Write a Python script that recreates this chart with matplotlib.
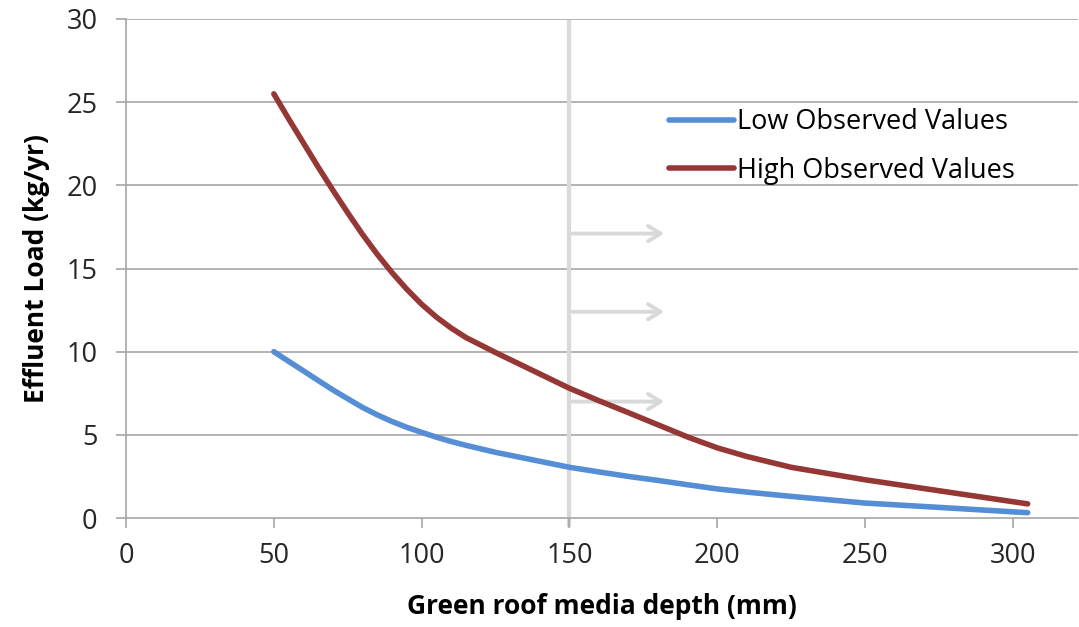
import matplotlib
matplotlib.use("Agg")
import matplotlib.pyplot as plt

depth = [50, 55, 60, 65, 70, 75, 80, 85, 90, 95, 100, 105, 110, 115, 125, 150,
         160, 170, 180, 190, 200, 210, 225, 250, 275, 305]
low_vals = [10.0, 9.42, 8.85, 8.27, 7.7, 7.17, 6.65, 6.2, 5.8, 5.45, 5.15, 4.86, 4.6, 4.37, 3.95, 3.05,
            2.77, 2.5, 2.26, 2.0, 1.75, 1.56, 1.3, 0.9, 0.64, 0.32]
high_vals = [25.5, 24.0, 22.55, 21.1, 19.7, 18.35, 17.05, 15.85, 14.75, 13.75, 12.85, 12.08, 11.42, 10.85, 9.95, 7.8,
             7.05, 6.33, 5.6, 4.87, 4.22, 3.7, 3.05, 2.3, 1.64, 0.85]
arrow_levels = [17.1, 12.4, 7.0]
cutoff = 150
arrow_end = 183

plt.rcParams['font.family'] = ['Open Sans', 'DejaVu Sans']

fig = plt.figure(figsize=(10.79, 6.27), dpi=100)
ax = fig.add_axes([0.1168, 0.1738, 0.8822, 0.7959])

grid_c = '#a6a6a6'
for yv in range(5, 31, 5):
    ax.axhline(yv, color=grid_c, lw=1.2, zorder=0)

# threshold line and arrows
ax.plot([cutoff, cutoff], [-0.4, 29.8], color='#d9d9d9', lw=3, zorder=1, clip_on=False)
for yv in arrow_levels:
    ax.annotate('', xy=(arrow_end, yv), xytext=(cutoff, yv),
                arrowprops=dict(arrowstyle='->,head_length=0.9,head_width=0.55',
                                color='#d9d9d9', lw=2.8), zorder=1)

ax.plot(depth, low_vals, color='#558ed5', lw=4, solid_capstyle='round',
        solid_joinstyle='round', label='Low Observed Values', zorder=3)
ax.plot(depth, high_vals, color='#953735', lw=4, solid_capstyle='round',
        solid_joinstyle='round', label='High Observed Values', zorder=3)

ax.set_xlim(0, 322)
ax.set_ylim(0, 30)
ax.set_xticks(range(0, 301, 50))
ax.set_yticks(range(0, 31, 5))
for s in ['top', 'right']:
    ax.spines[s].set_visible(False)
for s in ['left', 'bottom']:
    ax.spines[s].set_color(grid_c)
    ax.spines[s].set_linewidth(1.2)
ax.tick_params(axis='both', direction='out', length=7.5, width=1.2, color=grid_c,
               labelsize=19.5, labelcolor='#262626')
ax.tick_params(axis='x', pad=10)
ax.tick_params(axis='y', pad=13)

ax.set_xlabel('Green roof media depth (mm)', fontsize=19, fontweight='bold', labelpad=16)
ax.set_ylabel('Effluent Load (kg/yr)', fontsize=19, fontweight='bold', labelpad=12)

ax.legend(loc='upper left', bbox_to_anchor=(0.545, 0.87), frameon=False, fontsize=19.5,
          handlelength=2.4, handletextpad=0.1, labelspacing=0.75)

fig.savefig('out.png', dpi=100)
